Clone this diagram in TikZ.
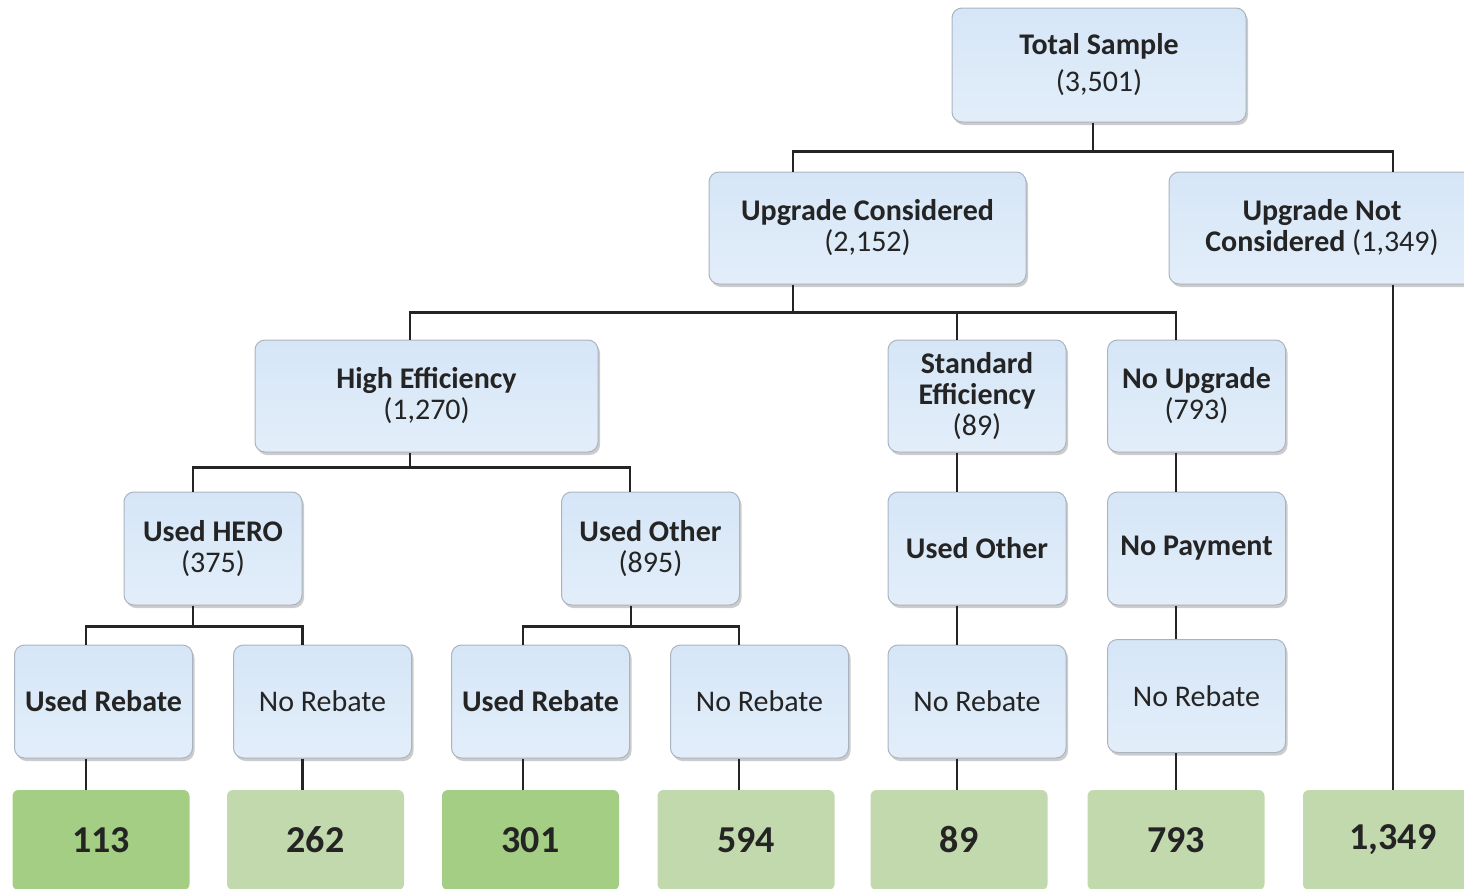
\documentclass[tikz,border=0pt]{standalone}
\usepackage{fontspec}
\setmainfont{Carlito}
\usetikzlibrary{calc,positioning,shadows}
\definecolor{boxBlue}{RGB}{214,230,247}
\definecolor{boxEdge}{RGB}{170,180,192}
\definecolor{inkGrey}{RGB}{36,36,36}
\definecolor{leafDark}{RGB}{164,206,131}
\definecolor{leafLight}{RGB}{193,217,172}
\tikzset{
  stage/.style={rounded corners=5pt,draw=boxEdge,line width=.5pt,
    top color=boxBlue,middle color=white,bottom color=boxBlue!70,
    drop shadow={shadow xshift=1pt,shadow yshift=-1.5pt,opacity=.4},
    text=inkGrey,align=center,inner sep=2pt,
    font=\fontsize{15}{15.5}\selectfont,minimum width=89pt,minimum height=56.5pt},
  leaf/.style={rounded corners=3pt,fill=leafLight,text=inkGrey,
    font=\fontsize{19}{20}\selectfont\bfseries,minimum width=88.5pt,minimum height=50pt},
  link/.style={draw=inkGrey,line width=1.1pt}
}

\begin{document}
\begin{tikzpicture}[x=0.5pt,y=-0.5pt]
\useasboundingbox (0,0) rectangle (1464,889);

\node[stage,minimum width=147pt,minimum height=57pt] (total) at (1099,65) {\textbf{Total Sample}\\[3pt](3,501)};
\node[stage,minimum width=158.5pt,minimum height=56pt] (uc) at (867.5,228) {\textbf{Upgrade Considered}\\(2,152)};
\node[stage,minimum width=153pt,minimum height=56pt] (unc) at (1322,228) {\textbf{Upgrade Not}\\\textbf{Considered} (1,349)};

\node[stage,minimum width=171.5pt,minimum height=56pt] (he) at (426.5,396) {\textbf{High Efficiency}\\(1,270)};
\node[stage,minimum height=56pt] (se) at (977,396) {\textbf{Standard}\\\textbf{Efficiency}\\(89)};
\node[stage,minimum height=56pt] (nu) at (1196.5,396) {\textbf{No Upgrade}\\(793)};

\node[stage] (hero) at (213,548.5) {\textbf{Used HERO}\\(375)};
\node[stage] (uo) at (650.5,548.5) {\textbf{Used Other}\\(895)};
\node[stage] (uo2) at (977,548.5) {\textbf{Used Other}};
\node[stage] (np) at (1196.5,548.5) {\textbf{No Payment}};

\node[stage] (ur1) at (103.5,701.5) {\textbf{Used Rebate}};
\node[stage] (nr1) at (322.5,701.5) {No Rebate};
\node[stage] (ur2) at (540.5,701.5) {\textbf{Used Rebate}};
\node[stage] (nr2) at (759.5,701.5) {No Rebate};
\node[stage] (nr3) at (977,701.5) {No Rebate};
\node[stage] (nr4) at (1196.5,696) {No Rebate};

\node[leaf,fill=leafDark] (g1) at (101,840) {113};
\node[leaf] (g2) at (315.5,840) {262};
\node[leaf,fill=leafDark] (g3) at (530.5,840) {301};
\node[leaf] (g4) at (746,840) {594};
\node[leaf] (g5) at (959,840) {89};
\node[leaf] (g6) at (1176,840) {793};
\node[leaf,minimum width=90pt] (g7) at (1393,840) {1,349};

\draw[link] ([xshift=-3pt]total.south) -- ++(0,30);
\draw[link] ([xshift=-37.25pt]uc.north) -- ++(0,-20) -| ([xshift=35.5pt]unc.north);
\draw[link] ([xshift=35.5pt]unc.south) -- ([xshift=35.5pt]unc.south |- g7.north);

\draw[link] ([xshift=-37.25pt]uc.south) -- ++(0,29);
\draw[link] ([xshift=-8.25pt]he.north) -- ++(0,-27) -| ([xshift=-10.25pt]nu.north);
\draw[link] ([xshift=-10pt]se.north) -- ++(0,-27);

\draw[link] ([xshift=-8.25pt]he.south) -- ++(0,16);
\draw[link] ([xshift=-10pt]hero.north) -- ++(0,-24) -| ([xshift=-10.25pt]uo.north);
\draw[link] ([xshift=-10pt]se.south) -- ([xshift=-10pt]uo2.north);
\draw[link] ([xshift=-10.25pt]nu.south) -- ([xshift=-10.25pt]np.north);

\draw[link] ([xshift=-10pt]hero.south) -- ++(0,22);
\draw[link] ([xshift=-8.75pt]ur1.north) -- ++(0,-18) -| ([xshift=-10pt]nr1.north);
\draw[link] ([xshift=-9.75pt]uo.south) -- ++(0,22);
\draw[link] ([xshift=-8.75pt]ur2.north) -- ++(0,-18) -| ([xshift=-10.25pt]nr2.north);
\draw[link] ([xshift=-10pt]uo2.south) -- ([xshift=-10pt]nr3.north);
\draw[link] ([xshift=-10.25pt]np.south) -- ([xshift=-10.25pt]nr4.north);

\draw[link] ([xshift=-8.75pt]ur1.south) -- ([xshift=-8.75pt]ur1.south |- g1.north);
\draw[link] ([xshift=-10pt]nr1.south) -- ([xshift=-10pt]nr1.south |- g2.north);
\draw[link] ([xshift=-8.75pt]ur2.south) -- ([xshift=-8.75pt]ur2.south |- g3.north);
\draw[link] ([xshift=-10.25pt]nr2.south) -- ([xshift=-10.25pt]nr2.south |- g4.north);
\draw[link] ([xshift=-10pt]nr3.south) -- ([xshift=-10pt]nr3.south |- g5.north);
\draw[link] ([xshift=-10.25pt]nr4.south) -- ([xshift=-10.25pt]nr4.south |- g6.north);
\end{tikzpicture}
\end{document}
